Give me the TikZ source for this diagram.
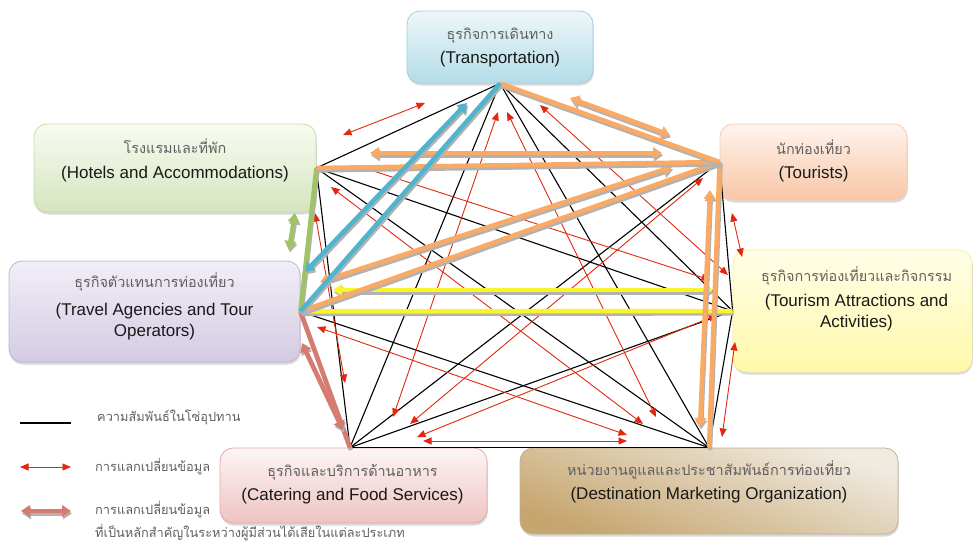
\documentclass[tikz,border=0pt]{standalone}
\usepackage{fontspec}
\setmainfont{Liberation Sans}
\newfontfamily\thaifont[Script=Thai]{Loma}
\usetikzlibrary{arrows.meta,shadows,calc}
\definecolor{thgray}{RGB}{95,95,95}
\definecolor{entxt}{RGB}{25,25,25}
\definecolor{redc}{RGB}{225,40,15}
\definecolor{orc}{RGB}{250,170,100}
\definecolor{bluec}{RGB}{80,180,205}
\definecolor{greenc}{RGB}{160,195,100}
\definecolor{yelc}{RGB}{248,245,40}
\definecolor{pinkc}{RGB}{215,122,112}
\definecolor{shd}{RGB}{178,178,178}
\definecolor{Ttop}{RGB}{238,247,250}\definecolor{Tbot}{RGB}{180,220,232}\definecolor{Tbor}{RGB}{160,208,222}
\definecolor{Htop}{RGB}{248,251,242}\definecolor{Hbot}{RGB}{213,229,190}\definecolor{Hbor}{RGB}{200,218,170}
\definecolor{Atop}{RGB}{242,238,247}\definecolor{Abot}{RGB}{212,203,227}\definecolor{Abor}{RGB}{190,178,212}
\definecolor{Otop}{RGB}{254,244,238}\definecolor{Obot}{RGB}{248,198,165}\definecolor{Obor}{RGB}{246,205,178}
\definecolor{Ytop}{RGB}{255,254,232}\definecolor{Ybot}{RGB}{255,249,170}\definecolor{Ybor}{RGB}{248,240,150}
\definecolor{Ctop}{RGB}{253,245,245}\definecolor{Cbot}{RGB}{238,195,195}\definecolor{Cbor}{RGB}{226,170,170}
\definecolor{Dtop}{RGB}{240,235,225}\definecolor{Dbot}{RGB}{198,165,110}\definecolor{Dbor}{RGB}{190,178,140}
\newcommand\thk[3]{%
  \draw[#1, draw=shd] ([shift={(1,2.4)}]#2) -- ([shift={(1,2.4)}]#3);
  \draw[#1] (#2) -- (#3);}
\newcommand\thline[1]{{\thaifont\fontsize{14.4}{18}\selectfont\color{thgray}#1}}
\begin{document}
\begin{tikzpicture}[x=1pt,y=-1pt,
  box/.style={rounded corners=13pt, line width=0.8pt, inner sep=0pt,
    drop shadow={shadow xshift=0.8pt,shadow yshift=-2.5pt,opacity=0.3}},
  lbl/.style={align=center, font=\fontsize{17}{21}\selectfont, text=entxt, inner sep=0pt},
  leg/.style={anchor=west, inner sep=0pt, text=thgray, font=\thaifont\fontsize{12.8}{25}\selectfont},
  blk/.style={line width=1.1pt, draw=black},
  rarr/.style={line width=0.9pt, draw=redc, {Triangle[length=8.5pt,width=7pt]}-{Triangle[length=8.5pt,width=7pt]}},
  thl/.style={line width=4.5pt, draw=#1},
  thd/.style={line width=4.5pt, draw=#1, {Triangle[length=9pt,width=11.5pt]}-{Triangle[length=9pt,width=11.5pt]}}
]
\useasboundingbox (0,0) rectangle (974,544);
% ---------- boxes ----------
\node[box, draw=Tbor, top color=Ttop, bottom color=Tbot, minimum width=186pt, minimum height=72pt] (T) at (500,47) {};
\node[box, draw=Hbor, top color=Htop, bottom color=Hbot, minimum width=282pt, minimum height=88pt] (H) at (175,168) {};
\node[box, draw=Abor, top color=Atop, bottom color=Abot, minimum width=291pt, minimum height=101pt] (A) at (154.5,311.5) {};
\node[box, draw=Obor, top color=Otop, bottom color=Obot, minimum width=187pt, minimum height=76pt] (To) at (813.5,162) {};
\node[box, draw=Ybor, top color=Ytop, bottom color=Ybot, minimum width=239pt, minimum height=122pt] (At) at (852.5,311) {};
\node[box, draw=Cbor, top color=Ctop, bottom color=Cbot, minimum width=267pt, minimum height=75pt] (C) at (353.5,485.5) {};
\node[box, draw=Dbor, top color=Dtop, bottom color=Dbot, shading angle=-20, minimum width=378pt, minimum height=86pt] (D) at (709,491) {};
% ---------- labels ----------
\node[lbl] (Ttx) at ($(T.center)+(0,0.5)$) {\thline{ธุรกิจการเดินทาง}\\[3pt](Transportation)};
\node[lbl] (Htx) at ($(H.center)+(0,-7.5)$) {\thline{โรงแรมและที่พัก}\\[3.5pt](Hotels and Accommodations)};
\node[lbl] (Atx) at ($(A.center)+(0,-5.5)$) {\thline{ธุรกิจตัวแทนการท่องเที่ยว}\\[7pt](Travel Agencies and Tour\\Operators)};
\node[lbl] (Totx) at ($(To.center)+(0,-1)$) {\thline{นักท่องเที่ยว}\\[3pt](Tourists)};
\node[lbl] (Attx) at ($(At.center)+(4,-12)$) {\thline{ธุรกิจการท่องเที่ยวและกิจกรรม}\\[3.5pt](Tourism Attractions and\\Activities)};
\node[lbl] (Ctx) at ($(C.center)+(-1,-1.5)$) {\thline{ธุรกิจและบริการด้านอาหาร}\\[3pt](Catering and Food Services)};
\node[lbl] (Dtx) at ($(D.center)+(0,-9)$) {\thline{หน่วยงานดูแลและประชาสัมพันธ์การท่องเที่ยว}\\[3.5pt](Destination Marketing Organization)};
% ---------- contact points ----------
\coordinate (pT) at (T.south);
\coordinate (pH) at (H.east);
\coordinate (pA) at (A.east);
\coordinate (pTo) at (To.west);
\coordinate (pAt) at (At.west);
\coordinate (pC) at ($(C.north)+(-3.5,0)$);
\coordinate (pD) at (D.north);
% ---------- supply chain lines ----------
\foreach \a/\b in {pT/pH,pT/pA,pT/pTo,pT/pAt,pT/pC,pT/pD,pH/pA,pH/pTo,pH/pAt,pH/pC,pH/pD,pA/pTo,pA/pAt,pA/pC,pA/pD,pTo/pAt,pTo/pC,pTo/pD,pAt/pC,pAt/pD,pC/pD}
  \draw[blk] (\a) -- (\b);
% ---------- information exchange (red) ----------
\coordinate (r1a) at (343,135); \coordinate (r1b) at (425,103);
\coordinate (r2a) at (540,105); \coordinate (r2b) at (728,275);
\coordinate (r3a) at (498,112); \coordinate (r3b) at (393,417);
\coordinate (r4a) at (507,112); \coordinate (r4b) at (656,417);
\coordinate (r5a) at (358,166); \coordinate (r5b) at (710,280);
\coordinate (r6a) at (315,213); \coordinate (r6b) at (345,383);
\coordinate (r7a) at (331,187); \coordinate (r7b) at (643,424);
\coordinate (r8a) at (317,327); \coordinate (r8b) at (627,435);
\coordinate (r9a) at (732,213); \coordinate (r9b) at (742,257);
\coordinate (r10a) at (703,178); \coordinate (r10b) at (410,424);
\coordinate (r11a) at (717,315); \coordinate (r11b) at (417,437);
\coordinate (r12a) at (735,342); \coordinate (r12b) at (722,437);
\coordinate (r13a) at (423,441); \coordinate (r13b) at (627,441);
\foreach \i in {1,...,13} \draw[rarr] (r\i a) -- (r\i b);
% ---------- key exchanges (thick) ----------
\coordinate (bA1) at (467,103); \coordinate (bA2) at (305,272);
\coordinate (gA1) at (295,213); \coordinate (gA2) at (289,250);
\coordinate (o1a) at (570,98);  \coordinate (o1b) at (670,135);
\coordinate (o2a) at (370,153); \coordinate (o2b) at (662,153);
\coordinate (o3a) at (320,282); \coordinate (o3b) at (672,167);
\coordinate (o4a) at (710,190); \coordinate (o4b) at (700,427);
\coordinate (y1a) at (333,290); \coordinate (y1b) at (713,290);
\coordinate (p1a) at (302,343); \coordinate (p1b) at (343,430);
\thk{thl=yelc}{pA}{pAt}
\thk{thd=yelc}{y1a}{y1b}
\thk{thl=pinkc}{pA}{pC}
\thk{thd=pinkc}{p1a}{p1b}
\thk{thl=greenc}{pH}{pA}
\thk{thd=greenc}{gA1}{gA2}
\thk{thl=orc}{pTo}{pD}
\thk{thd=orc}{o4a}{o4b}
\thk{thl=orc}{pA}{pTo}
\thk{thd=orc}{o3a}{o3b}
\thk{thl=orc}{pH}{pTo}
\thk{thd=orc}{o2a}{o2b}
\thk{thl=orc}{pT}{pTo}
\thk{thd=orc}{o1a}{o1b}
\thk{thl=bluec}{pT}{pA}
\thk{thd=bluec}{bA1}{bA2}
% ---------- legend ----------
\coordinate (l1a) at (20,423); \coordinate (l1b) at (71,423);
\coordinate (l2a) at (20,467); \coordinate (l2b) at (71,467);
\coordinate (l3a) at (21,511); \coordinate (l3b) at (71,511);
\draw[blk] (l1a) -- (l1b);
\draw[rarr] (l2a) -- (l2b);
\thk{thd=pinkc}{l3a}{l3b}
\node[leg] (lt1) at (97,417) {ความสัมพันธ์ในโซ่อุปทาน};
\node[leg] (lt2) at (95,467) {การแลกเปลี่ยนข้อมูล};
\node[leg] (lt3) at (95,510) {การแลกเปลี่ยนข้อมูล};
\node[leg] (lt4) at (95,533) {ที่เป็นหลักสำคัญในระหว่างผู้มีส่วนได้เสียในแต่ละประเภท};
\end{tikzpicture}
\end{document}
